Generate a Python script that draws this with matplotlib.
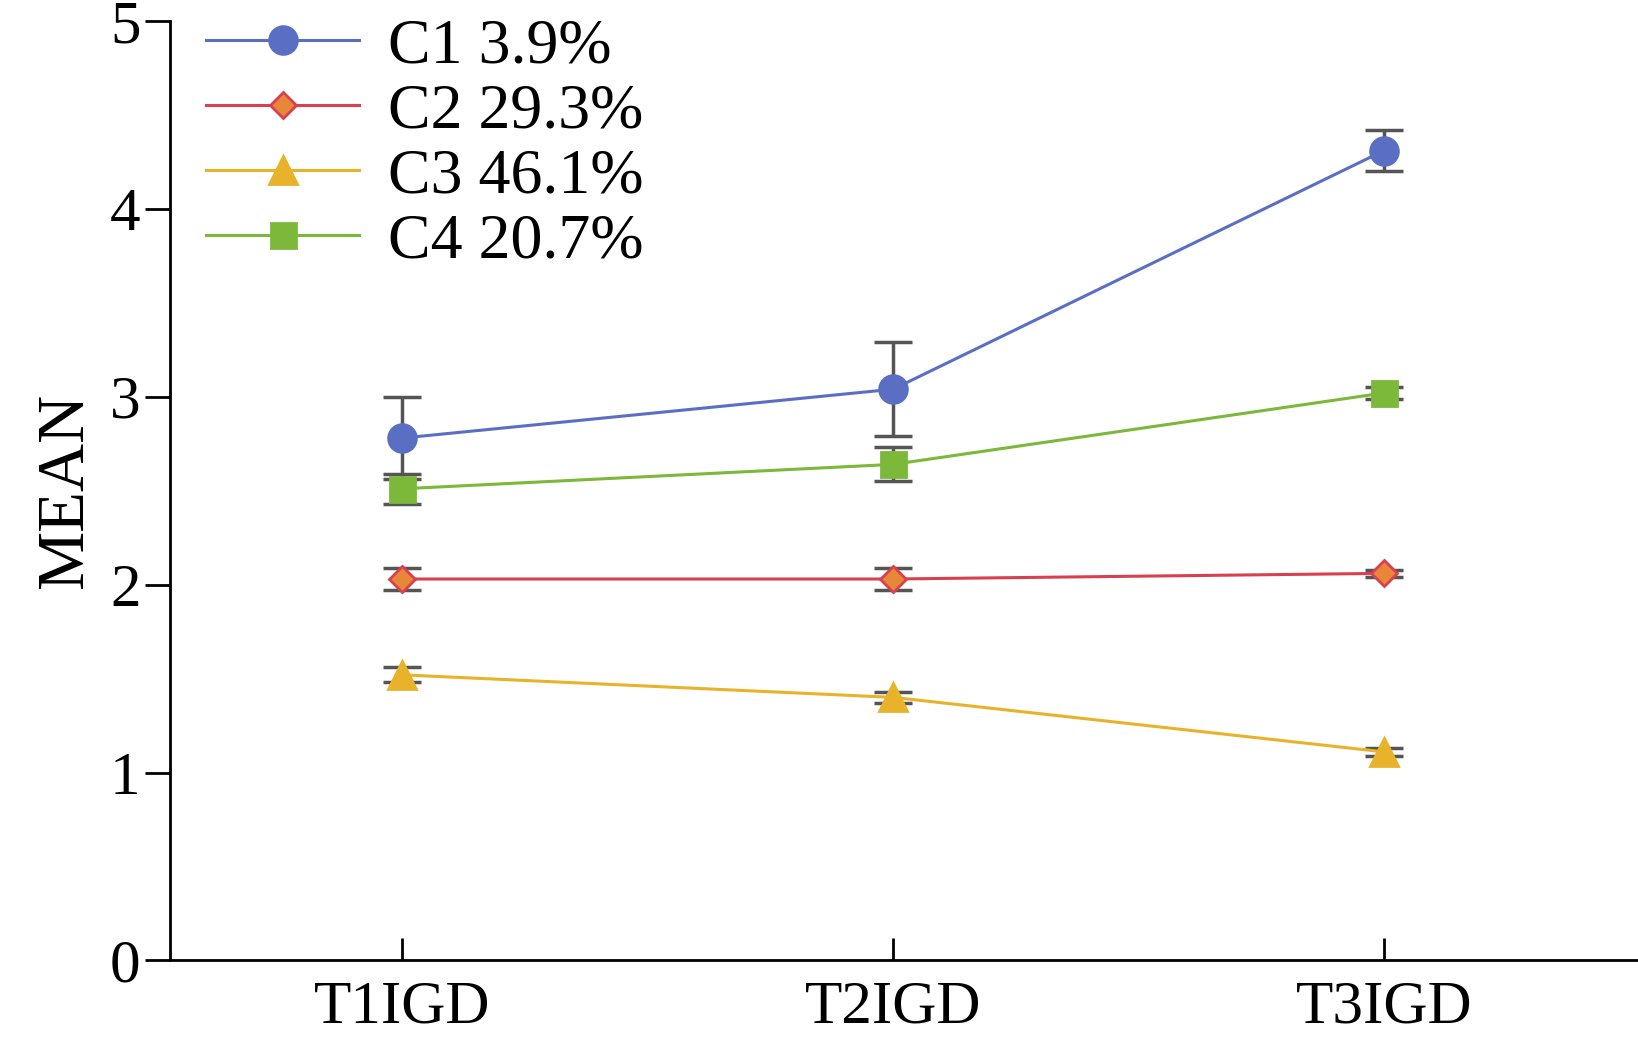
import matplotlib
matplotlib.use("Agg")
import matplotlib.pyplot as plt

cats = ["T1IGD", "T2IGD", "T3IGD"]
labels = ["C1 3.9%", "C2 29.3%", "C3 46.1%", "C4 20.7%"]
c1 = [2.78, 3.04, 4.31]; e1 = [0.22, 0.25, 0.11]
c2 = [2.03, 2.03, 2.06]; e2 = [0.06, 0.06, 0.02]
c3 = [1.52, 1.40, 1.11]; e3 = [0.04, 0.03, 0.02]
c4 = [2.51, 2.64, 3.02]; e4 = [0.08, 0.09, 0.03]

plt.rcParams['font.family'] = ['Liberation Serif', 'DejaVu Serif']
fig = plt.figure(figsize=(16.38, 10.44), dpi=100)
ax = fig.add_axes([0.104, 0.08, 0.896, 0.90])
x = [0, 1, 2]
styles = [("#5a6fc4", "o", None, 20), ("#d9404f", "D", "#e8873a", 13), ("#e8b22a", "^", None, 20), ("#7cb83a", "s", None, 18)]
for vals, errs, lab, (col, mk, fc, ms) in zip([c1, c2, c3, c4], [e1, e2, e3, e4], labels, styles):
    ax.errorbar(x, vals, yerr=errs, fmt="none", ecolor="#555555", elinewidth=2.5, capsize=14, capthick=2.5, zorder=2)
    ax.plot(x, vals, color=col, lw=2.2, marker=mk, ms=ms, mfc=fc if fc else col, mec=col, mew=2, label=lab, zorder=3)
ax.set_xlim(-0.472, 2.517)
ax.set_ylim(0, 5)
ax.set_xticks(x); ax.set_xticklabels(cats)
ax.set_yticks([0, 1, 2, 3, 4, 5])
ax.tick_params(axis='x', direction='in', length=16, width=2, labelsize=44, pad=14)
ax.tick_params(axis='y', direction='out', length=18, width=2, labelsize=44)
for s in ["top", "right"]:
    ax.spines[s].set_visible(False)
for s in ["left", "bottom"]:
    ax.spines[s].set_linewidth(2)
ax.set_ylabel("MEAN", fontsize=48, labelpad=10)
ax.legend(loc="upper left", bbox_to_anchor=(-0.015, 1.065), frameon=False, fontsize=46,
          handlelength=2.4, handletextpad=0.45, labelspacing=0.1)
fig.savefig("out.png", dpi=100)
